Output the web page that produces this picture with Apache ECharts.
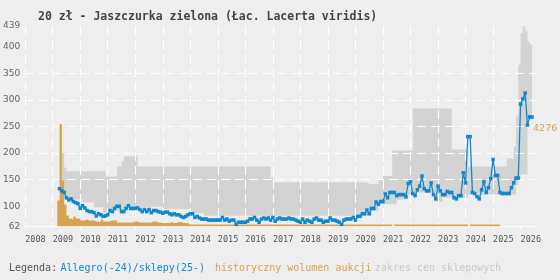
<!DOCTYPE html>
<html><head><meta charset="utf-8">
<script src="https://cdn.jsdelivr.net/npm/echarts@6/dist/echarts.min.js"></script>
<style>html,body{margin:0;padding:0;background:#eeeeee}#c{width:560px;height:280px}</style>
</head><body><div id="c"></div>
<script>
const titleText = '20 zł - Jaszczurka zielona (Łac. Lacerta viridis)';
const yearTicks = [2008,2009,2010,2011,2012,2013,2014,2015,2016,2017,2018,2019,2020,2021,2022,2023,2024,2025,2026];
const priceTicks = [62,100,150,200,250,300,350,400,439];
const gridPrices = [100,150,200,250,300,350,400];
const firstYear = 2009; // month index 0 = January 2009
// monthly Allegro/shop price, one row per year
const priceMonthly = [
  null,null,null,133,129,126,116,112,114,109,107,105,
  96,101,97,92,90,90,88,82,86,84,81,82,
  84,92,90,96,100,100,90,90,96,101,96,96,
  96,97,94,90,94,90,94,88,92,92,90,89,
  87,89,89,86,84,86,84,84,81,79,81,84,
  86,86,79,81,78,76,76,76,74,74,74,74,
  74,74,79,74,76,72,74,74,66,70,70,70,
  70,72,76,76,79,74,70,76,78,76,78,74,
  79,72,76,78,76,76,76,78,76,76,74,72,
  70,76,70,74,72,70,76,78,74,74,70,72,
  72,78,74,74,72,70,66,74,76,76,76,79,
  74,81,81,86,86,93,86,96,96,108,104,109,
  109,123,116,126,126,126,120,122,122,122,118,143,
  146,124,120,131,138,157,133,129,129,144,122,114,
  138,129,122,122,128,126,126,116,114,120,120,163,
  144,231,231,126,124,118,114,131,146,126,135,152,
  188,158,158,126,124,124,124,124,135,144,153,153,
  292,302,313,253,268,268
];
// shop price range: [start month index, value] runs, each held until the next run
const bandHighRuns = [[4,200],[5,173],[6,166],[23,156],[28,175],[30,185],[31,194],[37,175],[95,154],[96,145],[137,142],[142,150],[144,157],[148,205],[157,284],[174,207],[181,175],[198,190],[200,188],[201,213],[202,269],[203,366],[204,426],[205,439],[206,429],[207,410],[208,404]];
const bandLowRuns = [[4,119],[6,113],[13,107],[18,98],[22,88],[27,92],[32,99],[48,95],[60,87],[66,82],[139,91],[142,104],[150,113],[155,122],[158,126],[167,108],[170,116],[181,122],[202,140],[203,150],[204,160],[207,263]];
const bandEnd = 209;
// historical auction volume (relative units), runs as above
const volumeRuns = [[2,26],[3,102],[4,46],[5,22],[6,11],[7,8],[8,7],[9,10],[10,8],[12,6],[14,7],[15,6],[18,5],[21,7],[22,5],[25,6],[28,4],[35,5],[37,4],[43,5],[45,4],[47,3.5],[51,4.5],[52,3.5],[54,4.5],[56,3.5],[59,2],[148,null],[149,2],[181,null],[182,2]];
const volumeEnd = 195;
const lastLabel = '4276';

function expand(runs, end) {
  const out = [];
  for (let i = 0; i <= end; i++) {
    let v = null;
    for (const r of runs) if (r[0] <= i) v = r[1];
    out.push(v);
  }
  return out;
}
const monthX = i => firstYear + i / 12;
const bandHigh = expand(bandHighRuns, bandEnd);
const bandLow = expand(bandLowRuns, bandEnd);
const volume = expand(volumeRuns, volumeEnd);

const priceData = [];
priceMonthly.forEach((v, i) => { if (v != null) priceData.push([monthX(i), v]); });
const lowData = [], highData = [];
bandLow.forEach((v, i) => { if (v != null && bandHigh[i] != null) { lowData.push([monthX(i), v]); highData.push([monthX(i), bandHigh[i]]); } });
const volData = volume.map((v, i) => [monthX(i), v == null ? '-' : v]).filter((d, i) => i >= 2);

const BG = '#eeeeee', BAND = '#d3d3d3', BLUE = '#1188cc', ORANGE = '#d6a353';
const gridLine = { color: '#ffffff', width: 1, type: [9, 5] };
const yMin = priceTicks[0], yMax = priceTicks[priceTicks.length - 1];

const chart = echarts.init(document.getElementById('c'), null, { renderer: 'canvas' });
chart.setOption({
  animation: false,
  backgroundColor: BG,
  title: {
    text: titleText, left: 33, top: 6,
    textStyle: { fontFamily: 'DejaVu Sans Mono', fontWeight: 'bold', fontSize: 11.5, color: '#444' }
  },
  grid: { left: 25, right: 24, top: 26, bottom: 53.5 },
  xAxis: {
    type: 'value', min: 2008, max: 2026.56, z: 3,
    axisLine: { show: true, lineStyle: { color: '#ffffff', width: 1 } },
    axisTick: { show: true, length: 3, customValues: yearTicks, lineStyle: { color: '#ffffff' } },
    axisLabel: {
      customValues: yearTicks, formatter: v => String(v), align: 'left', margin: 9,
      fontFamily: 'DejaVu Sans Mono', fontSize: 8.5, color: '#555'
    },
    splitLine: { show: true, showMaxLine: false, lineStyle: gridLine }
  },
  yAxis: [{
    type: 'value', min: yMin, max: yMax, z: 3,
    axisLine: { show: false },
    axisTick: { show: false, customValues: gridPrices },
    axisLabel: {
      customValues: priceTicks, margin: 5, fontFamily: 'DejaVu Sans', fontSize: 9,
      color: v => (v === yMin || v === yMax) ? '#111' : '#666'
    },
    splitLine: { show: true, showMinLine: false, showMaxLine: false, lineStyle: gridLine }
  }, {
    type: 'value', min: 0, max: 200, show: false, splitLine: { show: false }
  }],
  graphic: [{
    type: 'text', left: 9, top: 262,
    style: {
      text: '{a|Legenda:} {b|Allegro(-24)/sklepy(25-)}   {c|historyczny wolumen aukcji} {d|zakres cen sklepowych}',
      rich: {
        a: { fontFamily: 'DejaVu Sans Mono', fontSize: 10, fill: '#555' },
        b: { fontFamily: 'DejaVu Sans Mono', fontSize: 10, fill: BLUE },
        c: { fontFamily: 'DejaVu Sans Mono', fontSize: 10, fill: ORANGE },
        d: { fontFamily: 'DejaVu Sans Mono', fontSize: 10, fill: '#c8c8c8' }
      }
    }
  }],
  series: [{
    name: 'zakres cen sklepowych', type: 'line', step: 'end', data: highData,
    symbol: 'none', lineStyle: { width: 0 }, areaStyle: { color: BAND, opacity: 1, origin: 'start' }, silent: true, z: 1
  }, {
    name: 'low', type: 'line', step: 'end', data: lowData,
    symbol: 'none', lineStyle: { width: 0 }, areaStyle: { color: BG, opacity: 1, origin: 'start' }, silent: true, z: 2
  }, {
    name: 'historyczny wolumen aukcji', type: 'line', yAxisIndex: 1, step: 'end', data: volData,
    symbol: 'none', lineStyle: { width: 0 }, areaStyle: { color: ORANGE, opacity: 1 }, connectNulls: false, z: 6
  }, {
    name: 'Allegro(-24)/sklepy(25-)', type: 'line', data: priceData,
    symbol: 'rect', symbolSize: 3.5, itemStyle: { color: BLUE }, lineStyle: { color: BLUE, width: 1.3 }, z: 10,
    endLabel: { show: true, formatter: lastLabel, color: ORANGE, fontFamily: 'DejaVu Sans', fontSize: 9.5, offset: [-7, 12] }
  }]
});
</script></body></html>
